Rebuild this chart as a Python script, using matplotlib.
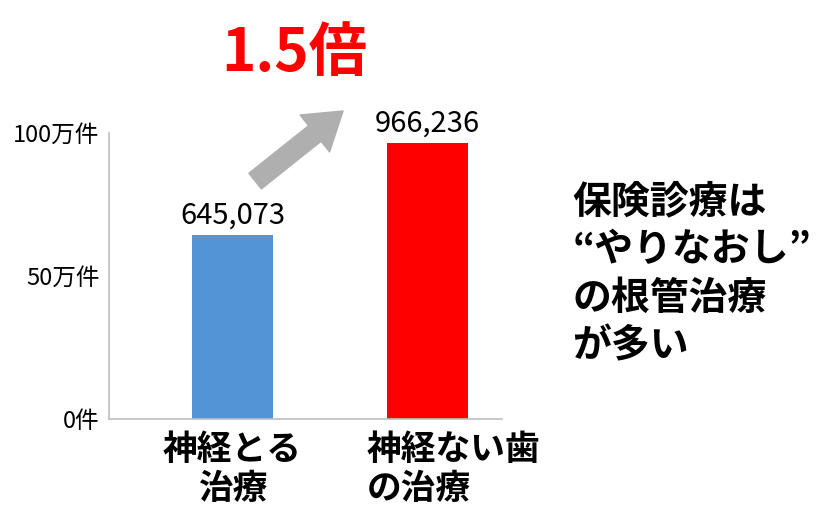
import matplotlib
matplotlib.use('Agg')
import matplotlib.pyplot as plt
import matplotlib.transforms as mtransforms

plt.rcParams['font.family'] = ['Noto Sans CJK JP', 'DejaVu Sans']

categories = ['神経とる\n治療', '神経ない歯\nの治療']
counts = [645073, 966236]
bar_colors = ['#5294d6', '#ff0000']
tick_values = [0, 500000, 1000000]
tick_labels = ['0件', '50万件', '100万件']
ratio_label = '1.5倍'
note = '保険診療は\n“やりなおし”\nの根管治療\nが多い'

fig = plt.figure(figsize=(8.21, 5.32), dpi=100)
ax = fig.add_axes([0.1328, 0.2124, 0.4787, 0.5376])

x = list(range(len(categories)))
ax.bar(x, counts, width=0.415, color=bar_colors)

for xi, v in zip(x, counts):
    ax.annotate(f'{v:,}', (xi, v), xytext=(0, 3), textcoords='offset points',
                ha='center', va='bottom', fontsize=21)

ax.set_xlim(-0.633, 1.382)
ax.set_ylim(0, 1000000)
ax.set_yticks(tick_values)
ax.set_yticklabels(tick_labels, fontsize=17)
ax.set_xticks(x)
ax.set_xticklabels(categories, fontsize=25, fontweight='bold', linespacing=1.15)
ax.tick_params(axis='both', length=0)
ax.tick_params(axis='y', pad=7)
ax.tick_params(axis='x', pad=9)

# second label: lines left aligned, shifted like the original text box
lbl = ax.get_xticklabels()[1]
lbl.set_horizontalalignment('left')
lbl.set_multialignment('left')
lbl.set_transform(lbl.get_transform() + mtransforms.ScaledTranslation(-60.5 / 100, 0, fig.dpi_scale_trans))

for side in ['top', 'right']:
    ax.spines[side].set_visible(False)
for side in ['left', 'bottom']:
    ax.spines[side].set_color('#bfbfbf')
    ax.spines[side].set_linewidth(1.2)

# grey growth arrow
ax.annotate('', xy=(0.567, 1077000), xytext=(0.116, 832000),
            arrowprops=dict(arrowstyle='simple,head_length=2.6,head_width=3.4,tail_width=1.44',
                            mutation_scale=10, color='#afafaf', shrinkA=0, shrinkB=0),
            annotation_clip=False)

fig.text(0.358, 0.898, ratio_label, color='#ff0000', fontsize=42, fontweight='bold',
         ha='center', va='center')
fig.text(0.697, 0.658, note, fontsize=28, fontweight='bold', ha='left', va='top',
         linespacing=1.3)

fig.savefig('out.png', dpi=100)
